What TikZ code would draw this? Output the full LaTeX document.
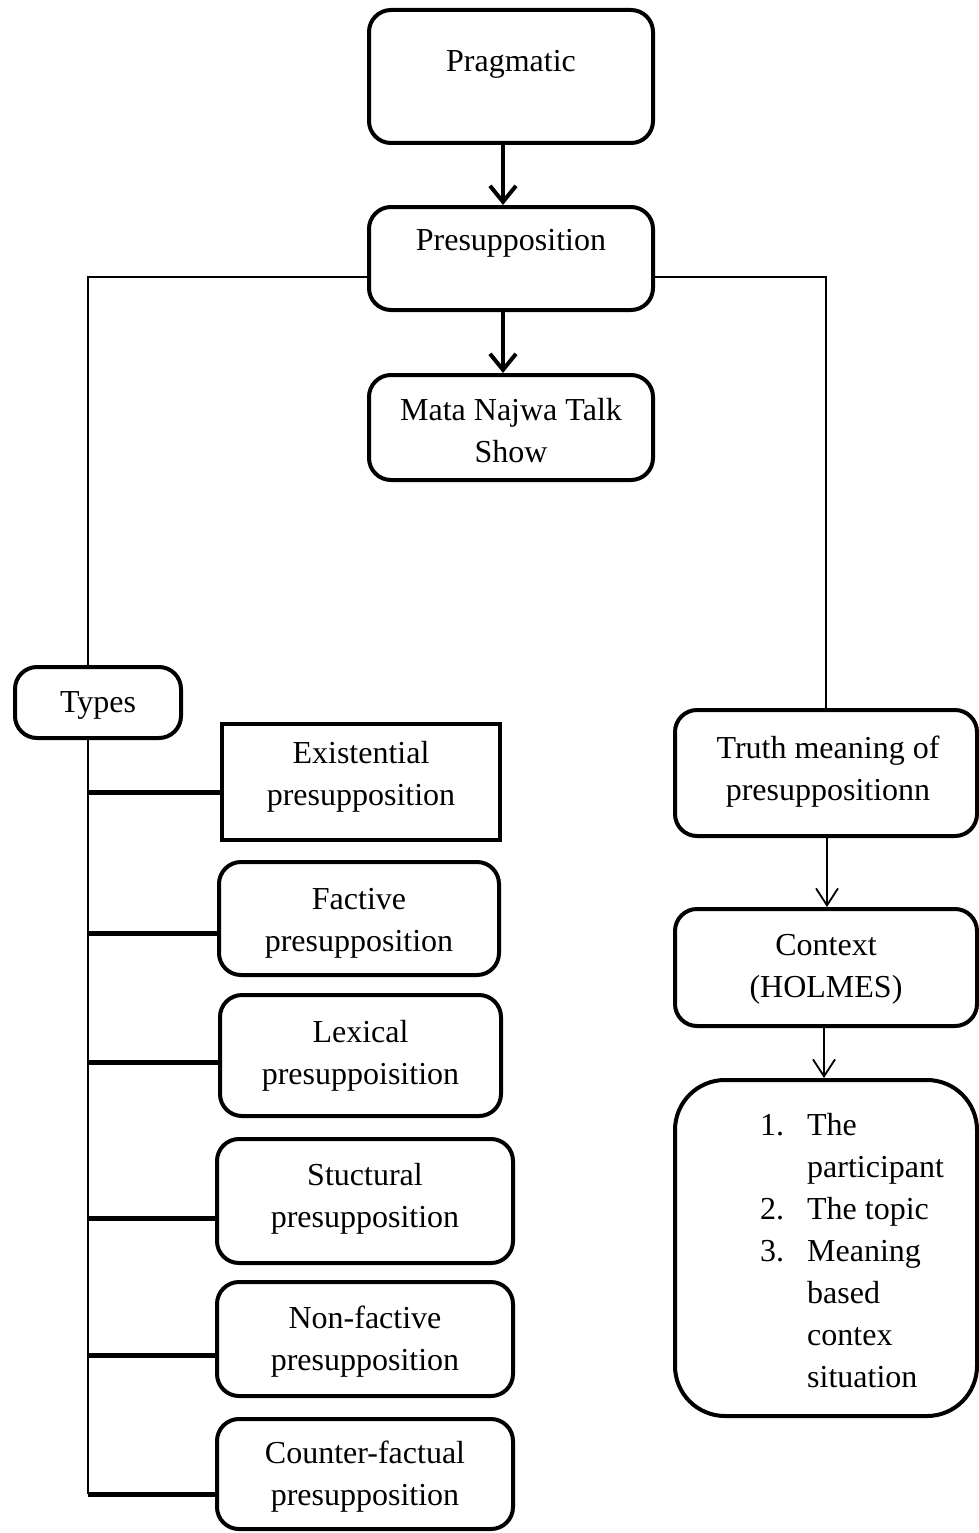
\documentclass[tikz,border=0pt]{standalone}
\usepackage{fontspec}
\setmainfont{Liberation Serif}
\usetikzlibrary{arrows.meta}
\newcommand{\mylines}[1]{\begin{tabular}[t]{@{}c@{}}#1\end{tabular}}
\tikzset{
  box/.style={draw, line width=4pt, rounded corners=22pt, inner sep=0pt},
  sqbox/.style={draw, line width=4pt, inner sep=0pt},
  txt/.style={font=\fontsize{32}{42}\selectfont, inner sep=0pt, anchor=base},
  thickarrow/.style={line width=4pt, -{Straight Barb[length=16pt, width=26pt]}},
  thinarrow/.style={line width=1.8pt, -{Straight Barb[length=17pt, width=22pt]}},
  thinline/.style={line width=1.5pt},
  bar/.style={line width=5pt}
}
\begin{document}
\begin{tikzpicture}[x=1pt, y=-1pt]
\useasboundingbox (0,0) rectangle (979,1533);

% boxes
\node[box, minimum width=284pt, minimum height=133pt] (prag) at (511,76.5) {};
\node[box, minimum width=284pt, minimum height=103pt] (pres) at (511,258.5) {};
\node[box, minimum width=284pt, minimum height=105pt] (mata) at (511,427.5) {};
\node[box, minimum width=166pt, minimum height=71pt] (types) at (98,702.5) {};
\node[sqbox, minimum width=278pt, minimum height=116pt] (ex) at (361,782) {};
\node[box, minimum width=280pt, minimum height=113pt] (fac) at (359,918.5) {};
\node[box, minimum width=281pt, minimum height=121pt] (lex) at (360.5,1055.5) {};
\node[box, minimum width=296pt, minimum height=124pt] (stu) at (365,1201) {};
\node[box, minimum width=296pt, minimum height=114pt] (non) at (365,1339) {};
\node[box, minimum width=296pt, minimum height=110pt] (cou) at (365,1474) {};
\node[box, minimum width=302pt, minimum height=126pt] (tru) at (826,773) {};
\node[box, minimum width=302pt, minimum height=117pt] (ctx) at (826,967.5) {};
\node[box, rounded corners=50pt, minimum width=302pt, minimum height=336pt] (lst) at (826,1248) {};

% texts
\node[txt] (tprag) at (511,72) {Pragmatic};
\node[txt] (tpres) at (511,250) {Presupposition};
\node[txt] (tmata) at (511,420) {\mylines{Mata Najwa Talk\\Show}};
\node[txt] (ttypes) at (98,712) {Types};
\node[txt] (tex) at (361,763) {\mylines{Existential\\presupposition}};
\node[txt] (tfac) at (359,909) {\mylines{Factive\\presupposition}};
\node[txt] (tlex) at (360.5,1042) {\mylines{Lexical\\presuppoisition}};
\node[txt] (tstu) at (365,1185) {\mylines{Stuctural\\presupposition}};
\node[txt] (tnon) at (365,1328) {\mylines{Non-factive\\presupposition}};
\node[txt] (tcou) at (365,1463) {\mylines{Counter-factual\\presupposition}};
\node[txt] (ttru) at (828,758) {\mylines{Truth meaning of\\presupposition\hspace{0pt}n}};
\node[txt] (tctx) at (826,955) {\mylines{Context\\(HOLMES)}};
\node[txt, anchor=base west] (tlst) at (760,1135) {\begin{tabular}[t]{@{}l@{\hspace{23pt}}l@{}}
1. & The\\
   & participant\\
2. & The topic\\
3. & Meaning\\
   & based\\
   & contex\\
   & situation
\end{tabular}};

% connectors
\draw[thickarrow] ([xshift=-8pt]prag.south) -- ([xshift=-8pt]pres.north);
\draw[thickarrow] ([xshift=-8pt]pres.south) -- ([xshift=-8pt]mata.north);

\coordinate (jl) at (88,277);
\coordinate (jr) at (826,277);
\draw[thinline] (pres.west |- jl) -- (jl) -- (jl |- types.north);
\draw[thinline] (pres.east |- jr) -- (jr) -- (tru.north);

\coordinate (sb) at (88,1494);
\draw[thinline] (jl |- types.south) -- (sb);

\coordinate (s1) at (88,792);
\coordinate (s2) at (88,933);
\coordinate (s3) at (88,1062);
\coordinate (s4) at (88,1218);
\coordinate (s5) at (88,1355);
\draw[bar] (s1) -- (s1 -| ex.west);
\draw[bar] (s2) -- (s2 -| fac.west);
\draw[bar] (s3) -- (s3 -| lex.west);
\draw[bar] (s4) -- (s4 -| stu.west);
\draw[bar] (s5) -- (s5 -| non.west);
\draw[bar] (sb) -- (sb -| cou.west);

\draw[thinarrow] ([xshift=1pt]tru.south) -- ([xshift=1pt]ctx.north);
\draw[thinarrow] ([xshift=-2pt]ctx.south) -- ([xshift=-2pt]lst.north);
\end{tikzpicture}
\end{document}
